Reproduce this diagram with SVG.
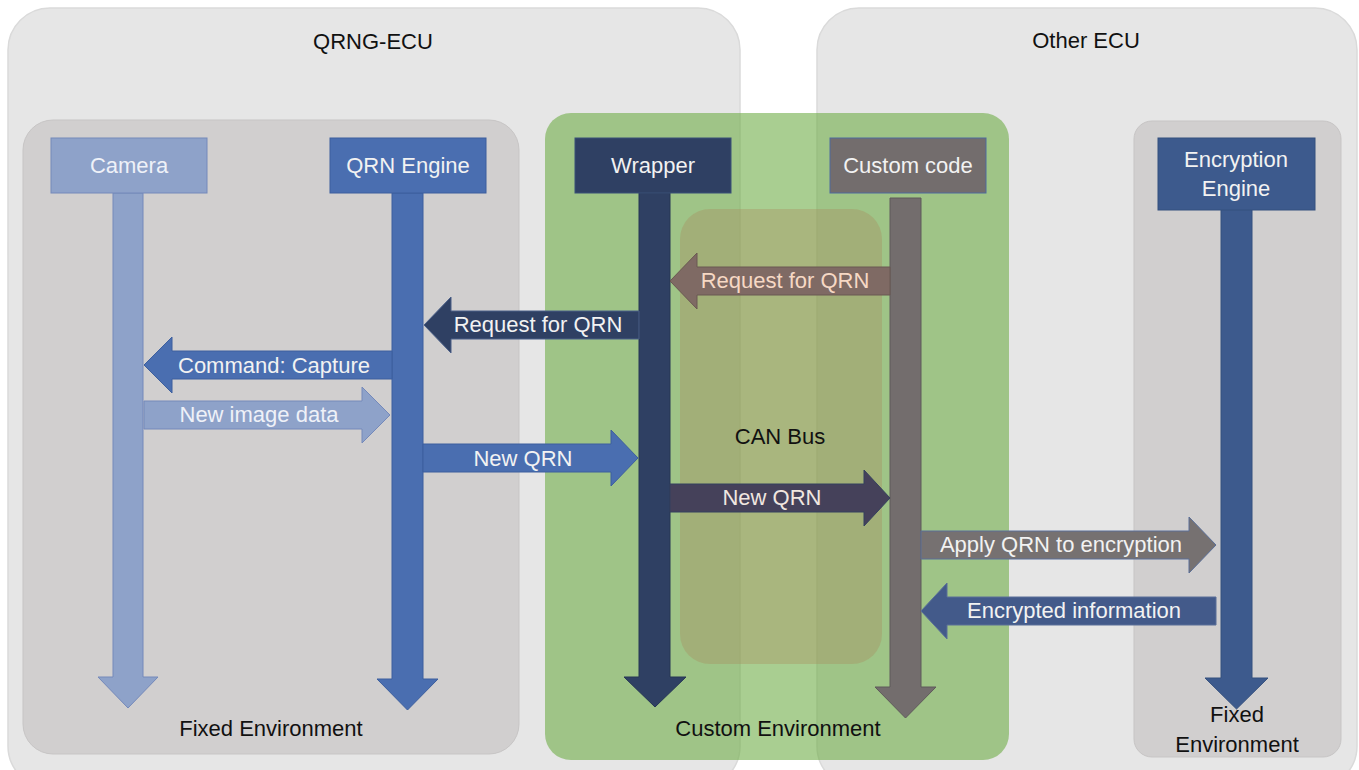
<svg xmlns="http://www.w3.org/2000/svg" width="1359" height="770" viewBox="0 0 1359 770">
<style>
.ecu{fill:#e6e6e6;stroke:#dadada;stroke-width:1.5}
.fixed{fill:#d1cfcf;stroke:#c7c5c5;stroke-width:1}
.t{font-family:"Liberation Sans",Arial,sans-serif;font-size:22px;text-anchor:middle}
.blk{fill:#111111}
.wht{fill:#f2f2f2}
.arr{stroke-width:1;stroke-linejoin:miter}
</style>
<rect width="1359" height="770" fill="#ffffff"/>
<g id="qrng-ecu">
  <rect class="ecu" x="8" y="8" width="732" height="780" rx="42"/>
  <text class="t blk" x="373" y="49">QRNG-ECU</text>
</g>
<g id="other-ecu">
  <rect class="ecu" x="817" y="8" width="540" height="780" rx="42"/>
  <text class="t blk" x="1086" y="48">Other ECU</text>
</g>
<g id="fixed-env-left">
  <rect class="fixed" x="23" y="120" width="496" height="634" rx="30"/>
  <text class="t blk" x="271" y="736">Fixed Environment</text>
</g>
<g id="fixed-env-right">
  <rect class="fixed" x="1134" y="121" width="207" height="636" rx="18"/>
  <text class="t blk" x="1237" y="722">Fixed</text>
  <text class="t blk" x="1237" y="752">Environment</text>
</g>
<g id="custom-env">
  <rect x="545" y="113" width="464" height="647" rx="26" fill="#70ad47" fill-opacity="0.6"/>
  <text class="t blk" x="778" y="736">Custom Environment</text>
</g>
<g id="can-bus">
  <rect x="680" y="209" width="202" height="455" rx="30" fill="#a88a5c" fill-opacity="0.35"/>
  <text class="t blk" x="780" y="444">CAN Bus</text>
</g>
<g id="camera">
  <polygon class="arr" points="113,193 143,193 143,677 158,677 128,708 98,677 113,677" fill="#8ea2c9" stroke="#7489ba"/>
  <rect x="51" y="138" width="156" height="55" fill="#8ea2c9" stroke="#7489ba"/>
  <text class="t" x="129" y="173" fill="#eef1f8">Camera</text>
</g>
<g id="qrn-engine">
  <polygon class="arr" points="392,193 423,193 423,679 438,679 407.5,710 377,679 392,679" fill="#4a6eb0" stroke="#3d5f9e"/>
  <rect x="330" y="138" width="156" height="55" fill="#4a6eb0" stroke="#3d5f9e"/>
  <text class="t wht" x="408" y="173">QRN Engine</text>
</g>
<g id="wrapper">
  <polygon class="arr" points="639,193 670,193 670,677 686,677 655,707 624,677 639,677" fill="#2f4063" stroke="#263654"/>
  <rect x="575" y="138" width="156" height="55" fill="#2f4063" stroke="#3b5078"/>
  <text class="t wht" x="653" y="173">Wrapper</text>
</g>
<g id="custom-code">
  <polygon class="arr" points="890,198 921,198 921,687 936,687 905.5,718 875,687 890,687" fill="#736d6d" stroke="#5f5a5a"/>
  <rect x="830" y="138" width="156" height="55" fill="#736d6d" stroke="#4e6a9e"/>
  <text class="t wht" x="908" y="173">Custom code</text>
</g>
<g id="encryption-engine">
  <polygon class="arr" points="1221,209 1252,209 1252,678 1268,678 1236.5,709 1205,678 1221,678" fill="#3d5a8d" stroke="#34507e"/>
  <rect x="1158" y="138" width="157" height="72" fill="#3d5a8d" stroke="#34507e"/>
  <text class="t wht" x="1236" y="167">Encryption</text>
  <text class="t wht" x="1236" y="196">Engine</text>
</g>
<g id="connectors">
  <polygon class="arr" points="890,267 697,267 697,253 670,281 697,309 697,295 890,295" fill="#7f6a64" stroke="#6a5852"/>
  <text class="t" x="785" y="288" fill="#f6d8c4">Request for QRN</text>
  <polygon class="arr" points="639,311 451,311 451,297 424,325 451,353 451,339 639,339" fill="#2f4063" stroke="#4a5f88"/>
  <text class="t wht" x="538" y="332">Request for QRN</text>
  <polygon class="arr" points="392,351 172,351 172,337 144,365 172,393 172,379 392,379" fill="#4a6eb0" stroke="#3d5f9e"/>
  <text class="t wht" x="274" y="373">Command: Capture</text>
  <polygon class="arr" points="144,401 362,401 362,387 390,415 362,443 362,429 144,429" fill="#8ea2c9" stroke="#7489ba"/>
  <text class="t" x="259" y="422" fill="#eef1f8">New image data</text>
  <polygon class="arr" points="423,444 611,444 611,430 638,458 611,486 611,472 423,472" fill="#4a6eb0" stroke="#3d5f9e"/>
  <text class="t wht" x="523" y="466">New QRN</text>
  <polygon class="arr" points="670,484 864,484 864,470 890,498 864,526 864,512 670,512" fill="#45415a" stroke="#34405e"/>
  <text class="t" x="772" y="505" fill="#f0e6e0">New QRN</text>
  <polygon class="arr" points="921,531 1189,531 1189,517 1216,545 1189,573 1189,559 921,559" fill="#767171" stroke="#5a6f98"/>
  <text class="t wht" x="1061" y="552">Apply QRN to encryption</text>
  <polygon class="arr" points="1216,597 947,597 947,583 921,611 947,639 947,625 1216,625" fill="#435a8a" stroke="#5a6f98"/>
  <text class="t wht" x="1074" y="618">Encrypted information</text>
</g>
</svg>
